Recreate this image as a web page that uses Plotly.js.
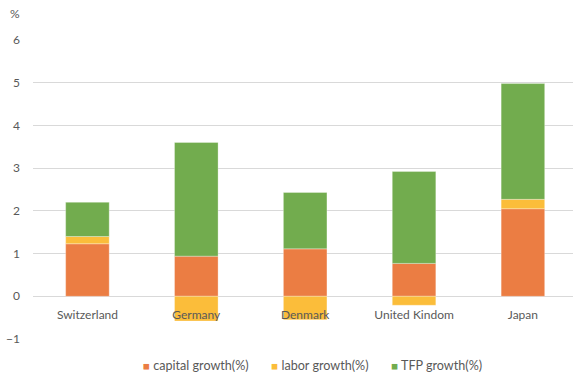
<!DOCTYPE html>
<html><head><meta charset="utf-8">
<script src="https://cdn.plot.ly/plotly-3.0.1.min.js"></script>
<style>html,body{margin:0;padding:0;background:#fff}</style>
</head><body>
<div id="chart" style="width:573px;height:372px"></div>
<script>
var countries = ["Switzerland", "Germany", "Denmark", "United Kindom", "Japan"];
var capitalGrowth = [1.23, 0.94, 1.11, 0.77, 2.05];
var laborGrowth = [0.17, -0.58, -0.55, -0.21, 0.22];
var tfpGrowth = [0.80, 2.66, 1.32, 2.15, 2.71];
var yTicks = [-1, 0, 1, 2, 3, 4, 5, 6];
var seriesNames = ["capital growth(%)", "labor growth(%)", "TFP growth(%)"];
var seriesColors = ["#EB7D43", "#FBBD3A", "#72AC4E"];

var font = {family: "Lato, 'Open Sans', sans-serif", size: 12, color: "#595959"};
function tr(i, vals) {
  return {type: "bar", name: seriesNames[i], x: countries, y: vals,
    marker: {color: seriesColors[i], line: {color: "rgba(255,255,255,0.6)", width: 0.5}},
    hoverinfo: "skip"};
}
var data = [tr(0, capitalGrowth), tr(1, laborGrowth), tr(2, tfpGrowth)];

var legendText = seriesNames.map(function (n, i) {
  return "<span style='color:" + seriesColors[i] + ";font-size:11.5px'>■</span> " + n;
}).join("       ");

var layout = {
  width: 573, height: 372,
  margin: {l: 33, r: 0, t: 40, b: 33, autoexpand: false},
  barmode: "relative", bargap: 0.6,
  paper_bgcolor: "#fff", plot_bgcolor: "#fff",
  font: font,
  showlegend: false,
  xaxis: {range: [-0.5, 4.46], anchor: "free", position: 0.1405, showgrid: false,
    showline: false, ticks: "", ticklabelstandoff: 9, tickfont: font, fixedrange: true},
  yaxis: {range: [-1, 6], tickvals: yTicks, showgrid: true, gridcolor: "#D9D9D9", gridwidth: 1,
    zeroline: true, zerolinecolor: "#D9D9D9", zerolinewidth: 1, showline: false, ticks: "",
    ticklabelstandoff: 12, tickfont: font},
  annotations: [
    {text: "%", xref: "paper", yref: "paper", x: -0.033, y: 1.09,
     xanchor: "center", yanchor: "middle", showarrow: false, font: font},
    {text: legendText, xref: "paper", yref: "paper", x: 0.5176, y: -0.09,
     xanchor: "center", yanchor: "middle", showarrow: false,
     font: {family: font.family, size: 12.6, color: font.color}}
  ]
};
Plotly.newPlot("chart", data, layout, {displayModeBar: false, staticPlot: true});
</script>
</body></html>
